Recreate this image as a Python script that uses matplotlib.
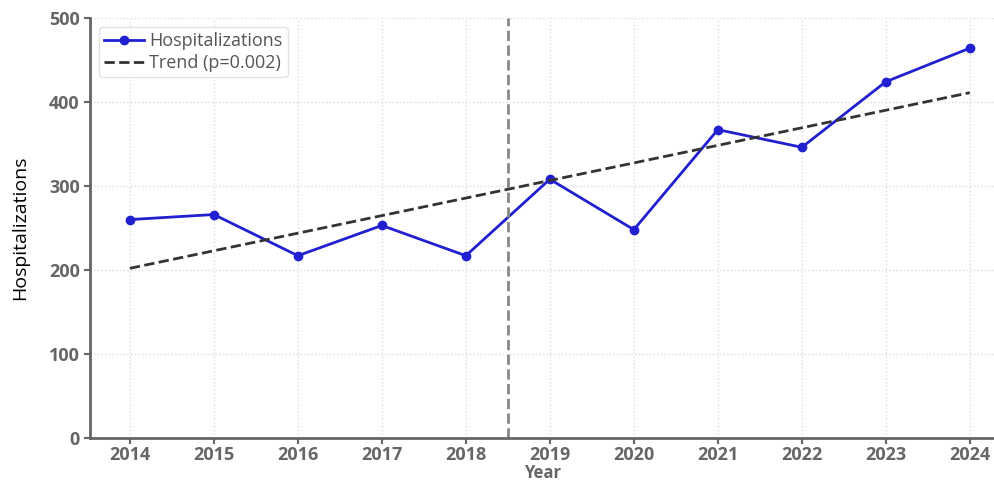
import matplotlib.pyplot as plt

plt.rcParams['font.family'] = ['Open Sans', 'DejaVu Sans']

# data
years = [2014, 2015, 2016, 2017, 2018, 2019, 2020, 2021, 2022, 2023, 2024]
hospitalizations = [260, 266, 217, 253, 217, 308, 248, 367, 346, 424, 464]
trend_years = [2014, 2024]
trend_values = [202, 411]
cutoff_year = 2018.5

fig = plt.figure(figsize=(9.95, 4.83), dpi=100)
ax = fig.add_axes([0.09, 0.093, 0.91, 0.87])

ax.plot(years, hospitalizations, color='#2020d0', marker='o', markersize=6,
        linewidth=2, label='Hospitalizations')
ax.plot(trend_years, trend_values, color='#333333', linestyle='--',
        linewidth=2, label='Trend (p=0.002)')
ax.axvline(cutoff_year, color='#888888', linestyle='--', linewidth=2)

ax.set_xlim(2013.52, 2024.3)
ax.set_ylim(0, 500)
ax.set_xticks(years)
ax.set_yticks([0, 100, 200, 300, 400, 500])
ax.grid(True, linestyle=':', color='#dddddd', linewidth=1)

for s in ['top', 'right']:
    ax.spines[s].set_visible(False)
for s in ['left', 'bottom']:
    ax.spines[s].set_color('#666666')
    ax.spines[s].set_linewidth(2)

ax.tick_params(axis='both', colors='#666666', length=4, width=1.5)
ax.tick_params(axis='x', labelsize=13, pad=2)
ax.tick_params(axis='y', labelsize=13, pad=3)
for lbl in ax.get_xticklabels() + ax.get_yticklabels():
    lbl.set_fontweight('bold')

ax.set_xlabel('Year', fontsize=12, fontweight='bold', color='#666666', labelpad=0)
ax.set_ylabel('Hospitalizations', fontsize=14, color='black', labelpad=14)

leg = ax.legend(loc='upper left', fontsize=13, frameon=True, borderpad=0.3,
                handlelength=2.2, handletextpad=0.3, labelspacing=0.2,
                bbox_to_anchor=(0.0, 1.0))
leg.get_frame().set_edgecolor('#dddddd')
for t in leg.get_texts():
    t.set_color('#555555')

fig.savefig('out.png', dpi=100)
